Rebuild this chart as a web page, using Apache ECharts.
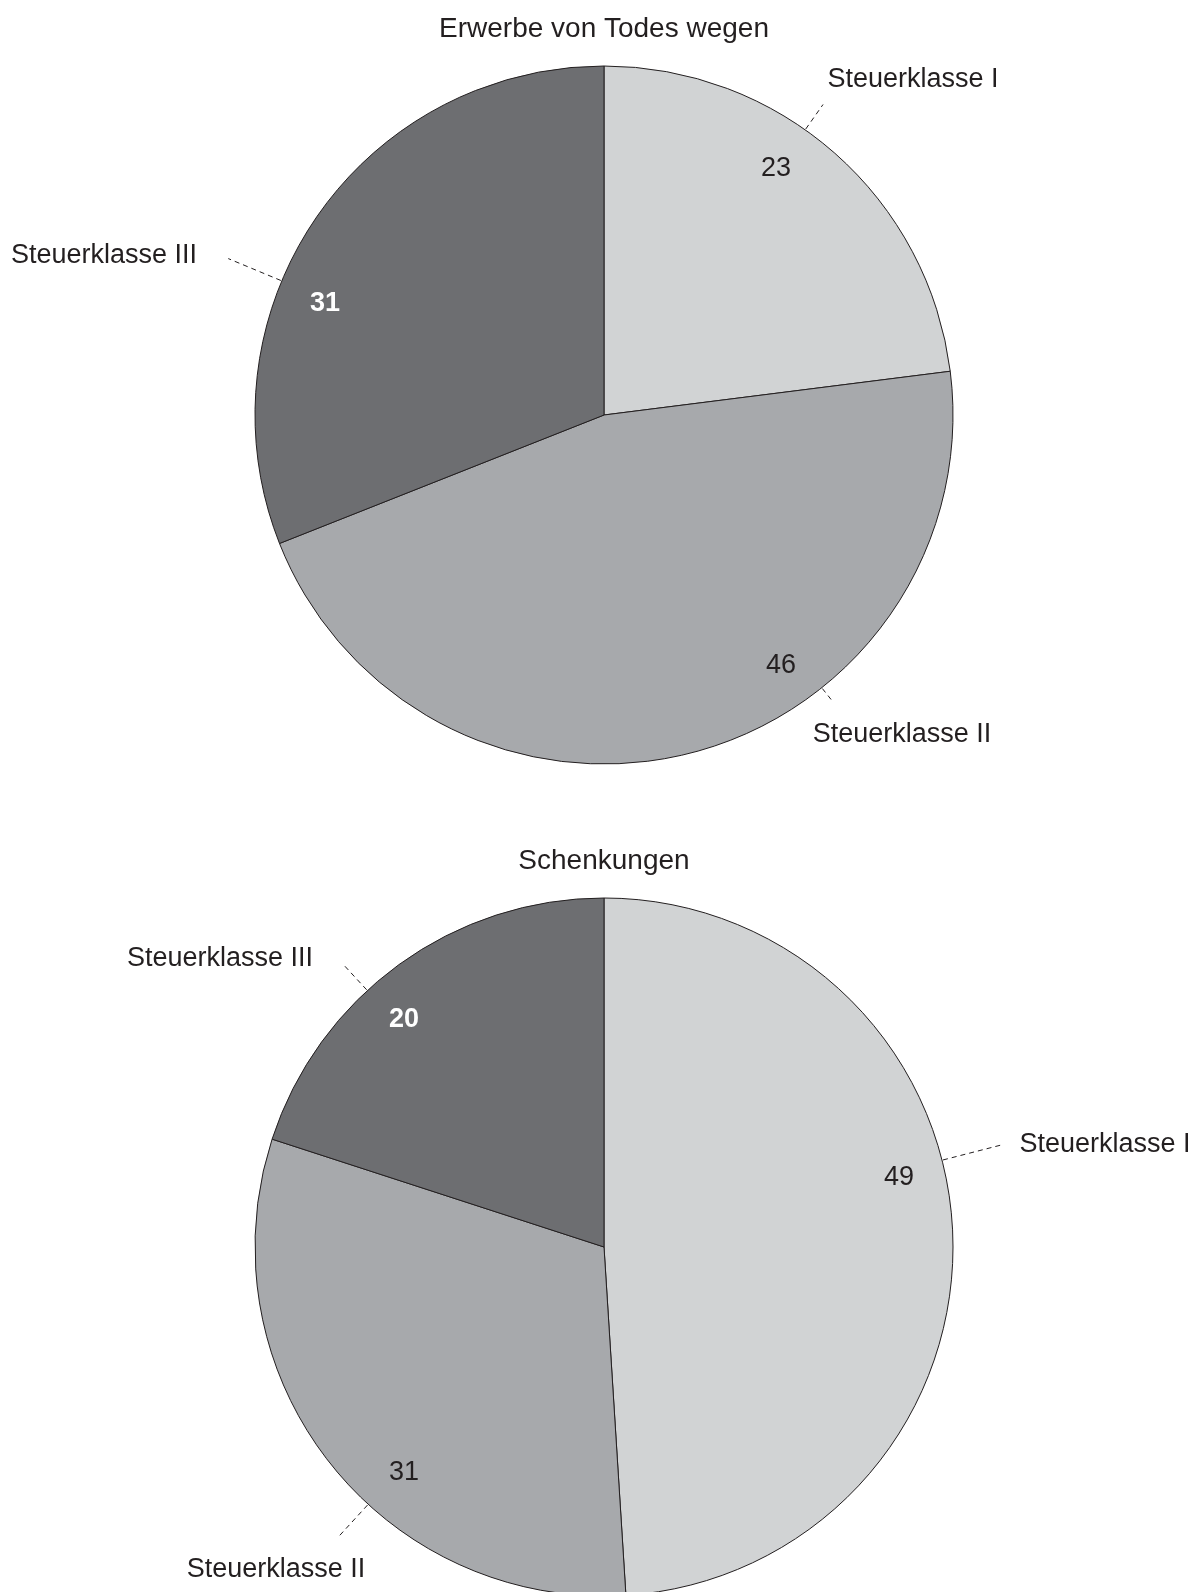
<!DOCTYPE html>
<html><head><meta charset="utf-8">
<script src="https://cdn.jsdelivr.net/npm/echarts@6/dist/echarts.min.js"></script>
<style>html,body{margin:0;padding:0;background:#fff}#c{width:1198px;height:1592px}</style>
</head><body><div id="c"></div>
<script>
// ---- data ----
const categories = ['Steuerklasse I', 'Steuerklasse II', 'Steuerklasse III'];
const titles = ['Erwerbe von Todes wegen', 'Schenkungen'];
const erwerbeValues = [23, 46, 31];
const schenkungenValues = [49, 31, 20];

// ---- styles / layout ----
const sliceColors = ['#d1d3d4', '#a7a9ac', '#6d6e71'];
const valueColors = ['#231f20', '#231f20', '#ffffff'];
const valueWeights = ['normal', 'normal', 'bold'];
const INK = '#231f20';
const FONT = '"Liberation Sans", Arial, sans-serif';
const FS = 27;
const TITLE_FS = 28;
const DY = 3;
const R = 349;
const pies = [
  { values: erwerbeValues, title: titles[0], center: [604, 415], titleTop: 15,
    valuePos: [[776, 166], [781, 663], [325, 301]],
    namePos: [[913, 77], [902, 732], [104, 253]],
    leaderAngle: [35.2, 141.4, 292.6], leaderLen: [31, 17, 58] },
  { values: schenkungenValues, title: titles[1], center: [604, 1247], titleTop: 847,
    valuePos: [[899, 1175], [404, 1470], [404, 1017]],
    namePos: [[1105, 1142], [276, 1567], [220, 956]],
    leaderAngle: [75.6, 222.5, 317.3], leaderLen: [60, 45, 37] }
];

const chart = echarts.init(document.getElementById('c'), null, { renderer: 'canvas' });

const series = [];
const title = [];
pies.forEach((pie) => {
  title.push({
    text: pie.title, left: pie.center[0], textAlign: 'center', top: pie.titleTop, padding: 0,
    textStyle: { fontFamily: FONT, fontSize: TITLE_FS, fontWeight: 'normal', color: INK }
  });
  // main pie with value labels
  series.push({
    type: 'pie', center: pie.center, radius: R, startAngle: 90, clockwise: true,
    animation: false, avoidLabelOverlap: false, silent: true,
    emphasis: { disabled: true },
    data: categories.map((name, i) => ({
      name, value: pie.values[i],
      itemStyle: { color: sliceColors[i] },
      label: { color: valueColors[i], fontWeight: valueWeights[i] }
    })),
    itemStyle: { borderColor: INK, borderWidth: 1 },
    label: { show: true, position: 'inside', formatter: '{c}', fontFamily: FONT, fontSize: FS },
    labelLine: { show: false },
    labelLayout: (p) => ({
      x: pie.valuePos[p.dataIndex][0], y: pie.valuePos[p.dataIndex][1] + DY,
      align: 'center', verticalAlign: 'middle'
    })
  });
  // overlay pie (transparent) carrying the category labels and dashed leaders
  series.push({
    type: 'pie', center: pie.center, radius: R, startAngle: 90, clockwise: true,
    animation: false, avoidLabelOverlap: false, silent: true, z: 3,
    emphasis: { disabled: true },
    data: categories.map((name, i) => ({ name, value: pie.values[i] })),
    itemStyle: { color: 'rgba(0,0,0,0)', borderWidth: 0 },
    label: { show: true, position: 'outside', alignTo: 'none', formatter: '{b}',
      fontFamily: FONT, fontSize: FS, color: INK },
    labelLine: { show: true, length: 10, length2: 10,
      lineStyle: { type: [5, 4], width: 1, color: INK } },
    labelLayout: (p) => {
      const i = p.dataIndex;
      const a = pie.leaderAngle[i] * Math.PI / 180;
      const s = Math.sin(a), c = Math.cos(a);
      const [cx, cy] = pie.center;
      const r1 = R + 1, r2 = R + pie.leaderLen[i];
      const p1 = [cx + r1 * s, cy - r1 * c];
      const p2 = [cx + r2 * s, cy - r2 * c];
      return {
        x: pie.namePos[i][0], y: pie.namePos[i][1] + DY,
        align: 'center', verticalAlign: 'middle',
        labelLinePoints: [p1, p2, p2]
      };
    }
  });
});

chart.setOption({ backgroundColor: '#ffffff', animation: false, title, series });
</script>
</body></html>
